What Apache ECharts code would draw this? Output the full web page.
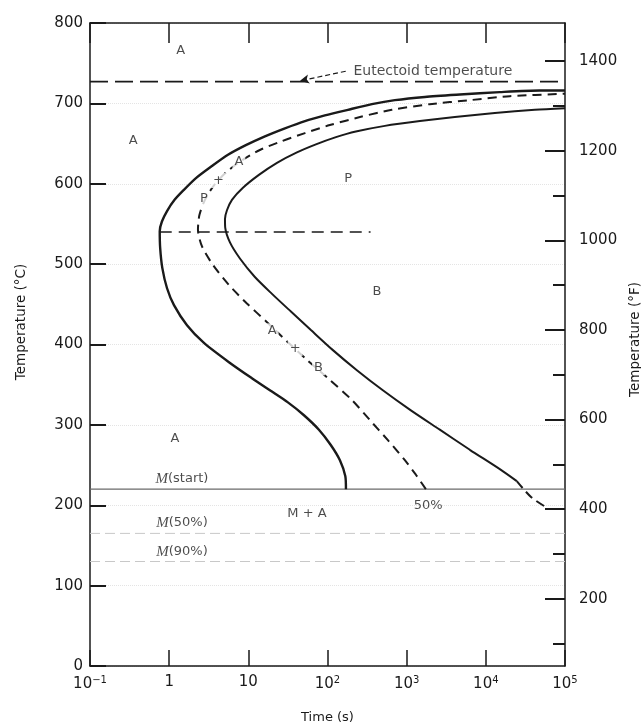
<!DOCTYPE html>
<html><head><meta charset="utf-8">
<script src="https://cdn.jsdelivr.net/npm/echarts@6/dist/echarts.min.js"></script>
<style>html,body{margin:0;padding:0;background:#fff}#c{width:641px;height:727px}</style>
</head><body><div id="c"></div>
<script>
// ---- axis ticks ----
const timeTickLabels = ['10^-1', '1', '10', '10^2', '10^3', '10^4', '10^5'];
const tempTicksC = [0, 100, 200, 300, 400, 500, 600, 700, 800];
const tempTicksF = [200, 400, 600, 800, 1000, 1200, 1400];
const tempMinorF = [100, 300, 500, 700, 900, 1100, 1300];
const rightAxisRangeF = [50, 1485];   // °F scale as printed on the right-hand axis

// ---- transformation curves (time s, temperature °C) ----
const startTime = [171, 168, 143.5, 110, 77.9, 50.4, 31.6, 18.7, 11.1, 5.69, 2.75, 1.68, 1.15, 0.94, 0.82, 0.77, 0.76,
                   0.81, 0.94, 1.17, 1.52, 2.18, 3.47, 5.53, 9.3, 16.2, 29, 51.9, 92.7, 181, 364, 710, 1700, 4700, 15000, 48000, 100000];
const startTemp = [220, 236, 256, 275, 294, 312, 328, 343, 358, 378, 402, 424, 449, 470, 495, 520, 541,
                   553, 566, 580, 592, 607, 622, 636, 648, 659, 669, 678, 685, 692, 699, 704, 708, 711, 714, 716, 716];

const halfTime = [1747, 1307, 949, 579, 343, 203, 107, 55, 29.9, 16.7, 9.6, 5.69, 3.57, 2.6, 2.31,
                  2.41, 2.83, 3.68, 5.21, 8.3, 14, 26.5, 51.9, 107, 257, 650, 1960, 6280, 20100, 100000];
const halfTemp = [220, 238, 256, 281, 306, 331, 356, 381, 405, 429, 451, 474, 499, 522, 543,
                  561, 580, 598, 614, 629, 642, 653, 663, 673, 683, 692, 699, 704, 709, 712];

const endTime = [24600, 15500, 6280, 2620, 1130, 500, 235, 117, 61.7, 34.5, 19.9, 12.1, 7.83, 5.86, 5.11, 5.07,
                 5.37, 6.21, 8.55, 13.6, 23, 41.1, 71.4, 128, 228, 531, 1470, 4060, 13000, 41600, 100000];
const endTemp = [230, 244, 269, 294, 318, 343, 368, 393, 418, 441, 463, 484, 507, 527, 545, 556,
                 567, 580, 595, 611, 626, 639, 649, 658, 665, 672, 678, 683, 688, 692, 694];

const endTailTime = [24600, 37500, 59000];
const endTailTemp = [230, 210, 197];

// ---- horizontal reference lines ----
const eutectoidTemp = 727;
const noseLineTime = [0.76, 350];
const noseLineTemp = 540;
const mStart = 220, m50 = 165, m90 = 130;
const timeRange = [0.1, 100000];

// ---- text annotations ----
const regionText = ['A', 'A', 'P', 'B', 'A', 'M + A', '50%', 'M(start)', 'M(50%)', 'M(90%)'];
const regionTime = [1.4, 0.35, 183, 420, 1.18, 55, 1870, 1.45, 1.45, 1.45];
const regionTemp = [766, 654, 606, 466, 283, 190, 200, 233, 178, 142];

const curveText = ['P', '+', 'A', 'A', '+', 'B'];
const curveTime = [2.75, 4.2, 7.6, 20, 39, 77];
const curveTemp = [582, 604, 627, 417, 395, 371];

const eutectoidLabel = 'Eutectoid temperature';
const eutectoidLabelPos = [210, 740];
const leaderTime = [170, 45];
const leaderTemp = [740, 728];

const zip = (a, b) => a.map((v, i) => [v, b[i]]);

const chart = echarts.init(document.getElementById('c'), null, {renderer: 'canvas'});
const FONT = 'DejaVu Sans';
const INK = '#1a1a1a';

function timeFmt(v) {
  const k = Math.round(Math.log10(v)) + 1;
  const s = timeTickLabels[k];
  if (s === undefined) return '';
  if (s.indexOf('^') >= 0) {
    const p = s.split('^');
    return p[0] + '{sup|' + p[1].replace('-', '−') + '}';
  }
  return s;
}
function regionFmt(p) {
  const t = p.data[2];
  if (t.indexOf('M(') === 0) return '{i|M}' + t.slice(1);
  return t;
}

chart.setOption({
  animation: false,
  backgroundColor: '#fff',
  grid: {left: 90, right: 76, top: 23, bottom: 61, containLabel: false, outerBoundsMode: 'none'},
  xAxis: [
    {
      type: 'log', logBase: 10, min: timeRange[0], max: timeRange[1], position: 'bottom',
      axisLine: {lineStyle: {color: INK, width: 1.5}},
      axisTick: {inside: true, length: 16, lineStyle: {color: INK, width: 1.5}},
      minorTick: {show: false}, splitLine: {show: false},
      axisLabel: {
        formatter: timeFmt, color: INK, fontFamily: FONT, fontSize: 15, margin: 9,
        rich: {sup: {fontSize: 10, fontFamily: FONT, color: INK, padding: [0, 0, 9, 0]}}
      },
      name: 'Time (s)', nameLocation: 'middle', nameGap: 45,
      nameTextStyle: {fontFamily: FONT, fontSize: 13, color: INK}
    },
    {
      type: 'log', logBase: 10, min: timeRange[0], max: timeRange[1], position: 'top',
      axisLine: {lineStyle: {color: INK, width: 1.5}},
      axisTick: {inside: true, length: 20, lineStyle: {color: INK, width: 1.5}},
      axisLabel: {show: false}, splitLine: {show: false}, minorTick: {show: false}
    }
  ],
  yAxis: [
    {
      type: 'value', min: tempTicksC[0], max: tempTicksC[tempTicksC.length - 1], interval: tempTicksC[1] - tempTicksC[0],
      position: 'left',
      axisLine: {show: true, lineStyle: {color: INK, width: 1.5}},
      axisTick: {show: true, inside: true, length: 16, lineStyle: {color: INK, width: 2}},
      axisLabel: {color: INK, fontFamily: FONT, fontSize: 15, margin: 7, formatter: v => String(v)},
      splitLine: {show: true, lineStyle: {color: '#e4e4e4', type: 'dotted', width: 1}},
      name: 'Temperature (°C)', nameLocation: 'middle', nameGap: 62, nameRotate: 90,
      nameTextStyle: {fontFamily: FONT, fontSize: 13.5, color: INK, padding: [0, 0, 0, 45]}
    },
    {
      type: 'value', min: rightAxisRangeF[0], max: rightAxisRangeF[1], position: 'right',
      axisLine: {show: true, lineStyle: {color: INK, width: 1.5}},
      axisTick: {show: true, inside: true, length: 20, customValues: tempTicksF, lineStyle: {color: INK, width: 2}},
      axisLabel: {show: true, customValues: tempTicksF, color: INK, fontFamily: FONT, fontSize: 15, margin: 14,
        formatter: v => String(v)},
      splitLine: {show: false},
      name: 'Temperature (°F)', nameLocation: 'middle', nameGap: 61, nameRotate: 90,
      nameTextStyle: {fontFamily: FONT, fontSize: 13.5, color: INK, padding: [0, 0, 0, 10]}
    },
    {
      type: 'value', min: rightAxisRangeF[0], max: rightAxisRangeF[1], position: 'right',
      axisLine: {show: false},
      axisTick: {show: true, inside: true, length: 12, customValues: tempMinorF, lineStyle: {color: INK, width: 2}},
      axisLabel: {show: false}, splitLine: {show: false}
    }
  ],
  series: [
    {type: 'line', name: 'M(start)', data: zip(timeRange, [mStart, mStart]), symbol: 'none',
      lineStyle: {color: '#6a6a6a', width: 1.3}, z: 2},
    {type: 'line', name: 'M(50%)', data: zip(timeRange, [m50, m50]), symbol: 'none',
      lineStyle: {color: '#c8c8c8', width: 1, type: [10, 5]}, z: 2},
    {type: 'line', name: 'M(90%)', data: zip(timeRange, [m90, m90]), symbol: 'none',
      lineStyle: {color: '#c8c8c8', width: 1, type: [10, 5]}, z: 2},
    {type: 'line', name: 'Eutectoid', data: zip(timeRange, [eutectoidTemp, eutectoidTemp]), symbol: 'none',
      lineStyle: {color: INK, width: 1.8, type: [18, 7]}, z: 3},
    {type: 'line', name: 'nose', data: zip(noseLineTime, [noseLineTemp, noseLineTemp]), symbol: 'none',
      lineStyle: {color: INK, width: 1.6, type: [12, 7]}, z: 3},
    {type: 'line', name: 'start', data: zip(startTime, startTemp), symbol: 'none', smooth: 0.25,
      lineStyle: {color: INK, width: 2.4}, z: 4},
    {type: 'line', name: '50%', data: zip(halfTime, halfTemp), symbol: 'none', smooth: 0.25,
      lineStyle: {color: INK, width: 2, type: [9, 6]}, z: 4},
    {type: 'line', name: 'end', data: zip(endTime, endTemp), symbol: 'none', smooth: 0.25,
      lineStyle: {color: INK, width: 2}, z: 4},
    {type: 'line', name: 'endTail', data: zip(endTailTime, endTailTemp), symbol: 'none', smooth: 0.3,
      lineStyle: {color: INK, width: 2, type: [9, 5]}, z: 4},
    {type: 'scatter', name: 'regions', symbolSize: 1, itemStyle: {color: 'rgba(0,0,0,0)'},
      data: regionTime.map((t, i) => [t, regionTemp[i], regionText[i]]),
      label: {show: true, position: 'inside', formatter: regionFmt, color: '#1e1e1e', fontFamily: FONT, fontSize: 13,
        rich: {i: {fontFamily: 'Liberation Serif', fontStyle: 'italic', fontSize: 15, color: '#1e1e1e'}}},
      z: 6},
    {type: 'scatter', name: 'curveLabels', symbolSize: 1, itemStyle: {color: 'rgba(0,0,0,0)'},
      data: curveTime.map((t, i) => [t, curveTemp[i], curveText[i]]),
      label: {show: true, position: 'inside', formatter: p => p.data[2], color: '#1e1e1e', fontFamily: FONT, fontSize: 13,
        backgroundColor: '#fff', padding: [1, 2]},
      z: 7},
    {type: 'scatter', name: 'eutectoidLabel', symbolSize: 1, itemStyle: {color: 'rgba(0,0,0,0)'},
      data: [[eutectoidLabelPos[0], eutectoidLabelPos[1], eutectoidLabel]],
      label: {show: true, position: 'right', distance: 0, formatter: p => p.data[2], color: '#1e1e1e', fontFamily: FONT, fontSize: 14},
      markLine: {
        silent: true, symbol: ['none', 'arrow'], symbolSize: [7, 9],
        lineStyle: {color: INK, width: 1.2, type: [5, 3]}, label: {show: false},
        data: [[{coord: [leaderTime[0], leaderTemp[0]]}, {coord: [leaderTime[1], leaderTemp[1]]}]]
      },
      z: 6}
  ]
});
</script>
</body></html>
